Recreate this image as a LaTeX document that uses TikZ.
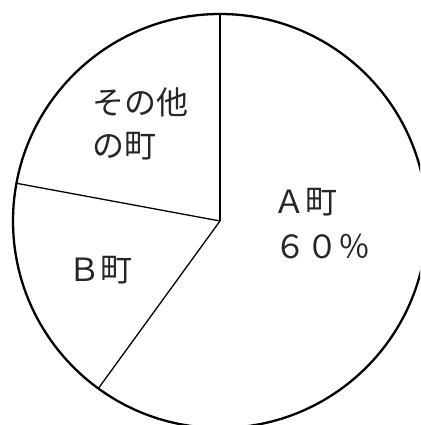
\documentclass[tikz,border=0pt]{standalone}
\usepackage{fontspec}
\newfontfamily\jpfont{Noto Sans CJK JP}

\begin{document}
\begin{tikzpicture}
        [x=1pt, y=1pt,
        rim/.style={black, line width=2.3pt},
        slice/.style={black, line width=1.3pt},
        label/.style={inner sep=0pt, anchor=west, font=\jpfont\fontsize{32}{40}\selectfont, text=black!85}]

        \useasboundingbox (0,0) rectangle (420,425);
        \clip (0,0) rectangle (420,425);

        % centre and points on the rim
        \coordinate (c) at (220,204);
        \coordinate (top) at ([shift={(90:207)}]c);
        \coordinate (left) at ([shift={(169.5:207)}]c);
        \coordinate (low) at ([shift={(234:207)}]c);

        % outer circle
        \draw[rim] (c) circle (207);

        % slice borders
        \draw[slice] (c) -- (top);
        \draw[slice] (c) -- (left);
        \draw[slice] (c) -- (low);

        % labels for the slices
        \node[label] (other1) at (92,323) {その他};
        \node[label] (other2) at (92,279) {の町};
        \node[label] (towna) at (273,223) {Ａ町};
        \node[label] (pct) at (274,178) {６０％};
        \node[label] (townb) at (68,155) {Ｂ町};

        \end{tikzpicture}
\end{document}
